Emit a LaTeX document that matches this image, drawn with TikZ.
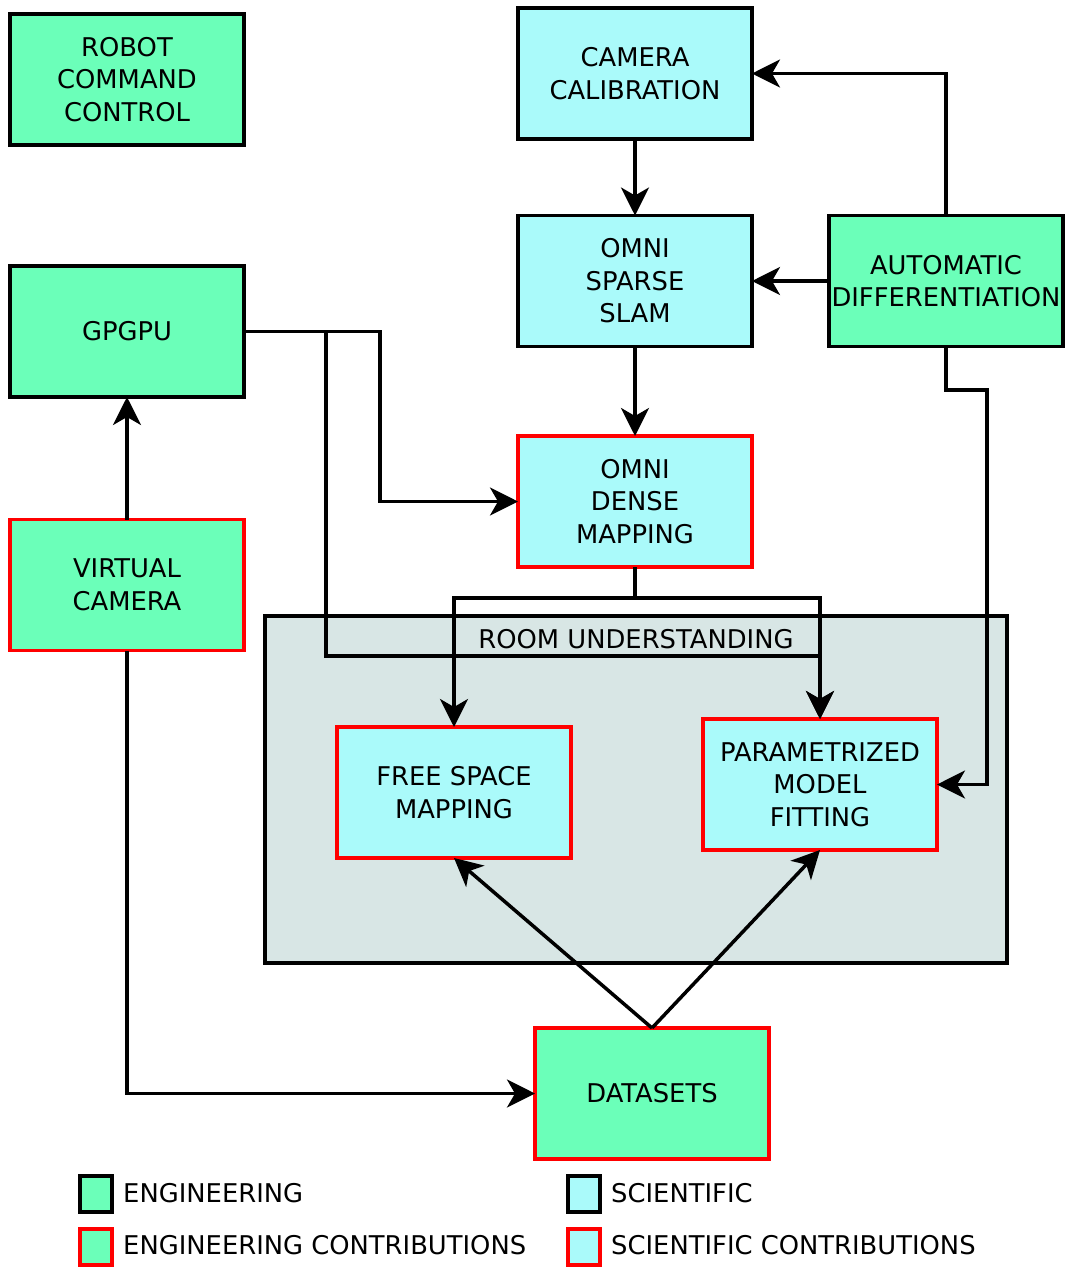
\documentclass[tikz,border=0pt]{standalone}
\usepackage{fontspec}
\setmainfont{DejaVu Sans}
\usetikzlibrary{arrows.meta}
\definecolor{eng}{HTML}{6BFFB9}
\definecolor{sci}{HTML}{AAFAFA}
\definecolor{roomfill}{HTML}{D8E6E5}
\tikzset{
  box/.style={draw, line width=3.5pt, minimum width=234pt, minimum height=131pt, inner sep=0pt, outer sep=0pt,
    align=center, font=\fontsize{25.8pt}{32.5pt}\selectfont},
  engbox/.style={box, fill=eng, draw=black},
  scibox/.style={box, fill=sci, draw=black},
  engcon/.style={box, fill=eng, draw=red},
  scicon/.style={box, fill=sci, draw=red},
  conn/.style={line width=3.5pt, -{Stealth[length=28pt,width=28pt,inset=8pt]}},
  plain/.style={line width=3.5pt},
  legsq/.style={line width=3.5pt, minimum width=32pt, minimum height=36pt, inner sep=0pt, outer sep=0pt},
  legtxt/.style={anchor=west, inner sep=0pt, font=\fontsize{25.8pt}{30pt}\selectfont},
}
\begin{document}
\begin{tikzpicture}[x=1pt,y=-1pt]
\useasboundingbox (0,0) rectangle (1067,1267);
% container
\node[draw, line width=3.5pt, fill=roomfill, minimum width=742pt, minimum height=347pt, inner sep=0pt] (room) at (636,789.5) {};
\node[font=\fontsize{25.8pt}{30pt}\selectfont, inner sep=0pt] (roomlbl) at (636,639) {ROOM UNDERSTANDING};
% nodes
\node[engbox] (robot) at (127,79.5) {ROBOT\\COMMAND\\CONTROL};
\node[scibox] (calib) at (635,73.5) {CAMERA\\CALIBRATION};
\node[scibox] (slam) at (635,281) {OMNI\\SPARSE\\SLAM};
\node[engbox] (auto) at (946,281) {AUTOMATIC\\DIFFERENTIATION};
\node[engbox] (gpgpu) at (127,331.5) {GPGPU};
\node[scicon] (dense) at (635,501.5) {OMNI\\DENSE\\MAPPING};
\node[engcon] (virtual) at (127,585) {VIRTUAL\\CAMERA};
\node[scicon] (free) at (454,792.5) {FREE SPACE\\MAPPING};
\node[scicon] (param) at (820,784.5) {PARAMETRIZED\\MODEL\\FITTING};
\node[engcon] (data) at (652,1093.5) {DATASETS};
% helper coordinates
\coordinate (gj) at (326,331.5);
\coordinate (dj) at (635,598);
% connectors
\draw[conn] (calib.south) -- (slam.north);
\draw[conn] (auto.north) |- (calib.east);
\draw[conn] (auto.west) -- (slam.east);
\draw[conn] (slam.south) -- (dense.north);
\draw[conn] (auto.south) -- (946,390) -- (987,390) |- (param.east);
\draw[conn] (gpgpu.east) -- (380,331.5) |- (dense.west);
\draw[plain] (gpgpu.east) -- (gj);
\draw[conn] (gj) -- (326,656) -| (param.north);
\draw[plain] (dense.south) -- (dj);
\draw[conn] (dj) -| (free.north);
\draw[conn] (dj) -| (param.north);
\draw[conn] (virtual.north) -- (gpgpu.south);
\draw[conn] (virtual.south) |- (data.west);
\draw[conn] (data.north) -- (free.south);
\draw[conn] (data.north) -- (param.south);
% legend
\node[legsq, draw=black, fill=eng] (l1) at (96,1194) {};
\node[legsq, draw=red, fill=eng] (l2) at (96,1247) {};
\node[legsq, draw=black, fill=sci] (l3) at (584,1194) {};
\node[legsq, draw=red, fill=sci] (l4) at (584,1247) {};
\node[legtxt] (t1) at (123,1193) {ENGINEERING};
\node[legtxt] (t2) at (123,1245) {ENGINEERING CONTRIBUTIONS};
\node[legtxt] (t3) at (611,1193) {SCIENTIFIC};
\node[legtxt] (t4) at (611,1245) {SCIENTIFIC CONTRIBUTIONS};
\end{tikzpicture}
\end{document}
